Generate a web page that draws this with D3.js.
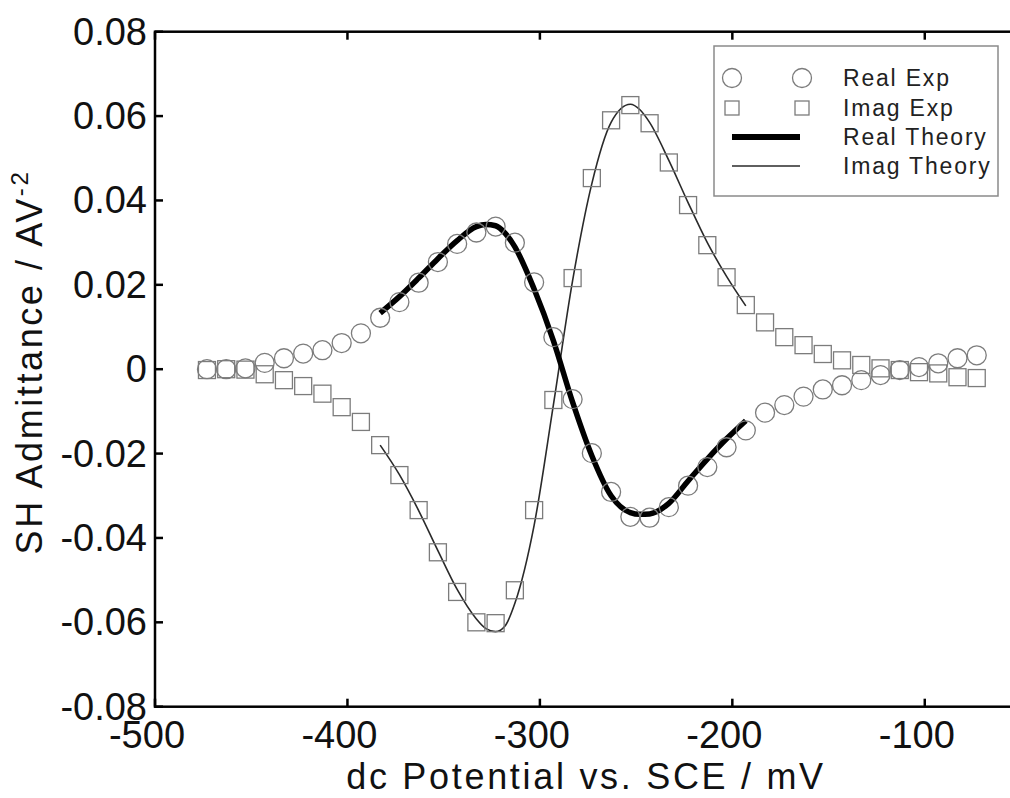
<!DOCTYPE html>
<html>
<head>
<meta charset="utf-8">
<script src="https://cdn.jsdelivr.net/npm/d3@7/dist/d3.min.js"></script>
<style>
  body { margin: 0; background: #fff; overflow: hidden; }
  svg { display: block; font-family: Arial, "Liberation Sans", sans-serif; }
</style>
</head>
<body>
<script>
// experimental points, dc potential in mV
var potential = [-473, -463, -453, -443, -433, -423, -413, -403, -393, -383,
                 -373, -363, -353, -343, -333, -323, -313, -303, -293, -283,
                 -273, -263, -253, -243, -233, -223, -213, -203, -193, -183,
                 -173, -163, -153, -143, -133, -123, -113, -103, -93, -83, -73];

var realExp = [0.0000, 0.0000, 0.0002, 0.0015, 0.0026, 0.0037, 0.0045, 0.0062, 0.0085, 0.0122,
               0.0159, 0.0205, 0.0254, 0.0297, 0.0324, 0.0338, 0.0300, 0.0206, 0.0076, -0.0071,
               -0.0199, -0.0291, -0.0350, -0.0352, -0.0327, -0.0276, -0.0232, -0.0185, -0.0145, -0.0103,
               -0.0085, -0.0065, -0.0048, -0.0038, -0.0026, -0.0014, -0.0002, 0.0005, 0.0014, 0.0026, 0.0033];

var imagExp = [-0.0002, 0.0000, -0.0001, -0.0012, -0.0026, -0.0040, -0.0058, -0.0090, -0.0125, -0.0180,
               -0.0251, -0.0334, -0.0434, -0.0528, -0.0600, -0.0602, -0.0524, -0.0334, -0.0073, 0.0216,
               0.0453, 0.0590, 0.0626, 0.0583, 0.0490, 0.0389, 0.0294, 0.0218, 0.0152, 0.0111,
               0.0076, 0.0057, 0.0036, 0.0021, 0.0010, 0.0002, -0.0002, -0.0007, -0.0010, -0.0019, -0.0021];

// theory curves
var theoryPotential = [-383, -373, -363, -353, -343, -333, -328, -323, -318, -313, -303, -293,
                       -283, -273, -263, -253, -248, -243, -233, -223, -213, -203, -193];

var realTheory = [0.0133, 0.0172, 0.0216, 0.0262, 0.0305, 0.0338, 0.0343, 0.0340, 0.0322, 0.0290, 0.0190, 0.0068,
                  -0.0078, -0.0205, -0.0300, -0.0340, -0.0344, -0.0343, -0.0318, -0.0265, -0.0213, -0.0165, -0.0122];

var imagTheory = [-0.0180, -0.0250, -0.0335, -0.0430, -0.0522, -0.0592, -0.0615, -0.0622, -0.0608, -0.0555, -0.0370, -0.0085,
                  0.0210, 0.0440, 0.0585, 0.0628, 0.0615, 0.0585, 0.0495, 0.0395, 0.0300, 0.0220, 0.0150];

var xTicks = [-500, -400, -300, -200, -100];
var yTicks = [-0.08, -0.06, -0.04, -0.02, 0, 0.02, 0.04, 0.06, 0.08];
var legendLabels = ["Real Exp", "Imag Exp", "Real Theory", "Imag Theory"];

function init(){
    var w = 1010;
    var h = 798;
    var left = 155, right = 1021, top = 31.7, bottom = 706.7;
    var markerColor = "#7c7c7c";

    var svg = d3.select("body")
                .append("svg")
                .attr("width", w)
                .attr("height", h);

    var x = d3.scaleLinear().domain([-500, -50]).range([left, right]);
    var y = d3.scaleLinear().domain([-0.08, 0.08]).range([bottom, top]);

    // theory lines
    var line = d3.line()
                 .x(function(d){ return x(d[0]); })
                 .y(function(d){ return y(d[1]); })
                 .curve(d3.curveMonotoneX);

    var imagPts = theoryPotential.map(function(p, i){ return [p, imagTheory[i]]; });
    var realPts = theoryPotential.map(function(p, i){ return [p, realTheory[i]]; });

    svg.append("path")
       .attr("d", line(imagPts))
       .attr("fill", "none")
       .attr("stroke", "#2a2a2a")
       .attr("stroke-width", 1.6);

    svg.append("path")
       .attr("d", line(realPts))
       .attr("fill", "none")
       .attr("stroke", "#000")
       .attr("stroke-width", 5.5)
       .attr("stroke-linejoin", "round");

    // experimental markers
    svg.selectAll("circle.real")
       .data(potential)
       .enter()
       .append("circle")
       .attr("class", "real")
       .attr("cx", function(d){ return x(d); })
       .attr("cy", function(d, i){ return y(realExp[i]); })
       .attr("r", 9.5)
       .attr("fill", "none")
       .attr("stroke", markerColor)
       .attr("stroke-width", 1.3);

    svg.selectAll("rect.imag")
       .data(potential)
       .enter()
       .append("rect")
       .attr("class", "imag")
       .attr("x", function(d){ return x(d) - 8.5; })
       .attr("y", function(d, i){ return y(imagExp[i]) - 8.5; })
       .attr("width", 17)
       .attr("height", 17)
       .attr("fill", "none")
       .attr("stroke", markerColor)
       .attr("stroke-width", 1.3);

    // axes box with inward ticks
    var axes = svg.append("g").attr("stroke", "#000").attr("stroke-width", 2.5);
    axes.append("rect")
        .attr("x", left).attr("y", top)
        .attr("width", right - left).attr("height", bottom - top)
        .attr("fill", "none");

    xTicks.forEach(function(t){
        axes.append("line").attr("x1", x(t)).attr("x2", x(t)).attr("y1", bottom).attr("y2", bottom - 8);
        axes.append("line").attr("x1", x(t)).attr("x2", x(t)).attr("y1", top).attr("y2", top + 8);
    });
    yTicks.forEach(function(t){
        axes.append("line").attr("x1", left).attr("x2", left + 8).attr("y1", y(t)).attr("y2", y(t));
        axes.append("line").attr("x1", right).attr("x2", right - 8).attr("y1", y(t)).attr("y2", y(t));
    });

    // tick labels
    svg.selectAll("text.xt")
       .data(xTicks)
       .enter()
       .append("text")
       .attr("class", "xt")
       .attr("x", function(d){ return x(d) - 8; })
       .attr("y", 748)
       .attr("text-anchor", "middle")
       .attr("font-size", 38)
       .attr("fill", "#111")
       .text(function(d){ return d; });

    svg.selectAll("text.yt")
       .data(yTicks)
       .enter()
       .append("text")
       .attr("class", "yt")
       .attr("x", 147)
       .attr("y", function(d){ return y(d) + 13; })
       .attr("text-anchor", "end")
       .attr("font-size", 38)
       .attr("fill", "#111")
       .text(function(d){ return d === 0 ? "0" : d.toFixed(2); });

    // axis titles
    svg.append("text")
       .attr("x", 586)
       .attr("y", 789)
       .attr("text-anchor", "middle")
       .attr("font-size", 36)
       .attr("letter-spacing", 2.7)
       .attr("fill", "#111")
       .text("dc Potential vs. SCE / mV");

    var yt = svg.append("text")
       .attr("transform", "translate(42,362) rotate(-90)")
       .attr("text-anchor", "middle")
       .attr("font-size", 36)
       .attr("letter-spacing", 2.6)
       .attr("fill", "#111");
    yt.append("tspan").text("SH Admittance / AV");
    yt.append("tspan").attr("dy", -14).attr("font-size", 24).text("-2");

    // legend
    var lg = svg.append("g");
    lg.append("rect")
      .attr("x", 714).attr("y", 46)
      .attr("width", 284).attr("height", 150)
      .attr("fill", "#fff")
      .attr("stroke", "#8a8a8a")
      .attr("stroke-width", 1.5);

    var rows = [78, 108, 137, 166];
    [732, 802].forEach(function(cx){
        lg.append("circle").attr("cx", cx).attr("cy", rows[0]).attr("r", 9.5)
          .attr("fill", "none").attr("stroke", markerColor).attr("stroke-width", 1.3);
        lg.append("rect").attr("x", cx - 7).attr("y", rows[1] - 7).attr("width", 14).attr("height", 14)
          .attr("fill", "none").attr("stroke", markerColor).attr("stroke-width", 1.3);
    });
    lg.append("line").attr("x1", 732).attr("x2", 800).attr("y1", rows[2]).attr("y2", rows[2])
      .attr("stroke", "#000").attr("stroke-width", 6);
    lg.append("line").attr("x1", 732).attr("x2", 800).attr("y1", rows[3]).attr("y2", rows[3])
      .attr("stroke", "#2a2a2a").attr("stroke-width", 1.6);

    lg.selectAll("text")
      .data(legendLabels)
      .enter()
      .append("text")
      .attr("x", 843)
      .attr("y", function(d, i){ return rows[i] + 8; })
      .attr("font-size", 23)
      .attr("letter-spacing", 1.8)
      .attr("fill", "#222")
      .text(function(d){ return d; });
}
window.onload = init;
</script>
</body>
</html>
